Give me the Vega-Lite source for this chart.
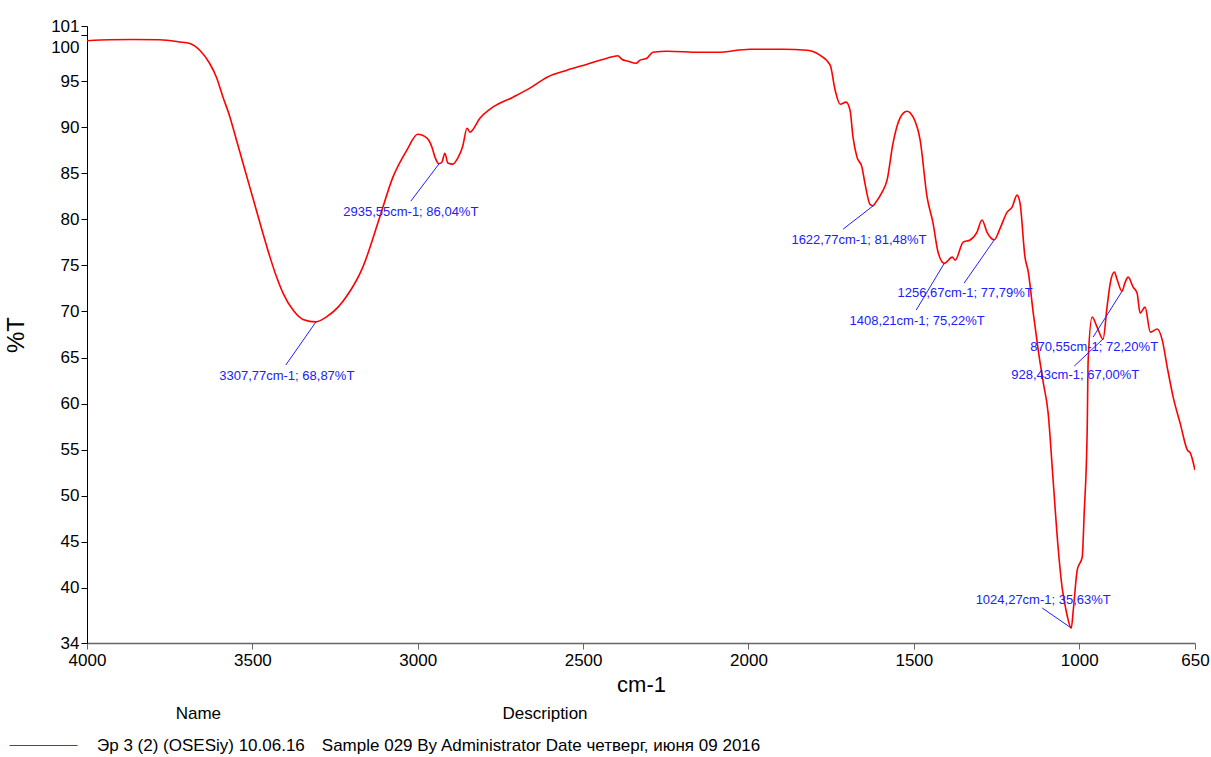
{
  "$schema": "https://vega.github.io/schema/vega-lite/v6.json",
  "autosize": {"type": "none"},
  "padding": {"left": 87, "top": 26, "right": 16, "bottom": 114},
  "width": 1108,
  "height": 617,
  "background": "white",
  "config": {"view": {"stroke": null}, "font": "Liberation Sans"},
  "datasets": {
    "spectrum": [
      {"wn": 4000, "t": 99.40}, {"wn": 3931, "t": 99.51}, {"wn": 3862, "t": 99.53}, {"wn": 3780, "t": 99.50},
      {"wn": 3720, "t": 99.27}, {"wn": 3689, "t": 99.10}, {"wn": 3659, "t": 98.37}, {"wn": 3629, "t": 96.93},
      {"wn": 3609, "t": 95.47}, {"wn": 3589, "t": 93.30}, {"wn": 3568, "t": 91.13}, {"wn": 3548, "t": 88.60},
      {"wn": 3528, "t": 86.07}, {"wn": 3508, "t": 83.53}, {"wn": 3488, "t": 81.00}, {"wn": 3468, "t": 78.47},
      {"wn": 3447, "t": 75.93}, {"wn": 3427, "t": 73.76}, {"wn": 3407, "t": 71.96}, {"wn": 3377, "t": 70.15},
      {"wn": 3347, "t": 69.14}, {"wn": 3308, "t": 68.87}, {"wn": 3276, "t": 69.42}, {"wn": 3240, "t": 70.50},
      {"wn": 3214, "t": 71.70}, {"wn": 3166, "t": 74.82},
      {"wn": 3115, "t": 80.24}, {"wn": 3075, "t": 84.59}, {"wn": 3033, "t": 87.52}, {"wn": 3000, "t": 89.25},
      {"wn": 2972, "t": 88.82}, {"wn": 2957, "t": 87.84}, {"wn": 2948, "t": 86.76}, {"wn": 2936, "t": 86.04},
      {"wn": 2927, "t": 86.21}, {"wn": 2918, "t": 87.19}, {"wn": 2909, "t": 86.12}, {"wn": 2894, "t": 86.00},
      {"wn": 2879, "t": 86.65}, {"wn": 2864, "t": 87.95}, {"wn": 2851, "t": 89.90}, {"wn": 2842, "t": 89.47},
      {"wn": 2812, "t": 90.99}, {"wn": 2773, "t": 92.18}, {"wn": 2712, "t": 93.27}, {"wn": 2661, "t": 94.25},
      {"wn": 2609, "t": 95.44}, {"wn": 2549, "t": 96.20}, {"wn": 2488, "t": 96.85}, {"wn": 2428, "t": 97.50},
      {"wn": 2395, "t": 97.77}, {"wn": 2383, "t": 97.39}, {"wn": 2364, "t": 97.18}, {"wn": 2340, "t": 96.96},
      {"wn": 2328, "t": 97.29}, {"wn": 2307, "t": 97.50}, {"wn": 2289, "t": 98.15}, {"wn": 2246, "t": 98.26},
      {"wn": 2147, "t": 98.15}, {"wn": 2095, "t": 98.15}, {"wn": 1995, "t": 98.48}, {"wn": 1896, "t": 98.48},
      {"wn": 1823, "t": 98.37}, {"wn": 1784, "t": 97.83}, {"wn": 1753, "t": 96.74}, {"wn": 1738, "t": 94.03},
      {"wn": 1723, "t": 92.51}, {"wn": 1705, "t": 92.73}, {"wn": 1693, "t": 91.86}, {"wn": 1684, "t": 88.93},
      {"wn": 1672, "t": 86.76}, {"wn": 1657, "t": 85.67}, {"wn": 1648, "t": 83.93}, {"wn": 1632, "t": 81.60},
      {"wn": 1623, "t": 81.48}, {"wn": 1617, "t": 81.76}, {"wn": 1596, "t": 82.96}, {"wn": 1581, "t": 84.26},
      {"wn": 1563, "t": 88.28}, {"wn": 1542, "t": 90.99}, {"wn": 1521, "t": 91.75}, {"wn": 1502, "t": 91.10},
      {"wn": 1481, "t": 88.60}, {"wn": 1460, "t": 82.41}, {"wn": 1442, "t": 79.59}, {"wn": 1427, "t": 76.46},
      {"wn": 1408, "t": 75.22}, {"wn": 1384, "t": 75.90}, {"wn": 1375, "t": 75.58}, {"wn": 1351, "t": 77.53},
      {"wn": 1330, "t": 77.76}, {"wn": 1309, "t": 78.63}, {"wn": 1294, "t": 79.93}, {"wn": 1279, "t": 78.63},
      {"wn": 1257, "t": 77.79}, {"wn": 1239, "t": 79.05}, {"wn": 1218, "t": 80.79}, {"wn": 1203, "t": 81.33},
      {"wn": 1188, "t": 82.63}, {"wn": 1179, "t": 81.76}, {"wn": 1164, "t": 75.90}, {"wn": 1154, "t": 74.27},
      {"wn": 1139, "t": 69.82}, {"wn": 1124, "t": 65.81}, {"wn": 1109, "t": 62.33}, {"wn": 1094, "t": 58.97},
      {"wn": 1079, "t": 51.70}, {"wn": 1064, "t": 44.42}, {"wn": 1052, "t": 40.08}, {"wn": 1040, "t": 37.58},
      {"wn": 1024, "t": 35.63}, {"wn": 1018, "t": 37.58}, {"wn": 1006, "t": 41.93}, {"wn": 991, "t": 43.34},
      {"wn": 985, "t": 48.11}, {"wn": 976, "t": 57.12}, {"wn": 973, "t": 64.72}, {"wn": 961, "t": 69.39},
      {"wn": 946, "t": 68.30}, {"wn": 928, "t": 67.00}, {"wn": 916, "t": 70.47}, {"wn": 906, "t": 73.12},
      {"wn": 894, "t": 74.27}, {"wn": 885, "t": 73.41}, {"wn": 871, "t": 72.20}, {"wn": 861, "t": 73.19},
      {"wn": 852, "t": 73.73}, {"wn": 837, "t": 72.65}, {"wn": 825, "t": 71.99}, {"wn": 816, "t": 69.82},
      {"wn": 801, "t": 70.47}, {"wn": 785, "t": 67.76}, {"wn": 764, "t": 68.09}, {"wn": 749, "t": 66.89},
      {"wn": 734, "t": 63.96}, {"wn": 716, "t": 60.70}, {"wn": 695, "t": 57.88}, {"wn": 673, "t": 54.95},
      {"wn": 664, "t": 54.62}, {"wn": 650, "t": 52.78}
    ],
    "peaks": [
      {"wn": 3307.77, "t": 68.87, "lx": 3399, "ly": 64.18, "tx": 3396, "ty": 62.98, "label": "3307,77cm-1; 68,87%T"},
      {"wn": 2935.55, "t": 86.04, "lx": 3021, "ly": 81.98, "tx": 3021, "ty": 80.79, "label": "2935,55cm-1; 86,04%T"},
      {"wn": 1622.77, "t": 81.48, "lx": 1714, "ly": 78.94, "tx": 1666, "ty": 77.75, "label": "1622,77cm-1; 81,48%T"},
      {"wn": 1408.21, "t": 75.22, "lx": 1493, "ly": 70.15, "tx": 1490, "ty": 68.95, "label": "1408,21cm-1; 75,22%T"},
      {"wn": 1256.67, "t": 77.79, "lx": 1348, "ly": 73.08, "tx": 1345, "ty": 71.99, "label": "1256,67cm-1; 77,79%T"},
      {"wn": 870.55, "t": 72.20, "lx": 958, "ly": 67.22, "tx": 955, "ty": 66.13, "label": "870,55cm-1; 72,20%T"},
      {"wn": 928.43, "t": 67.00, "lx": 1015, "ly": 64.07, "tx": 1012, "ty": 63.09, "label": "928,43cm-1; 67,00%T"},
      {"wn": 1024.27, "t": 35.63, "lx": 1112, "ly": 37.80, "tx": 1109, "ty": 38.67, "label": "1024,27cm-1; 35,63%T"}
    ]
  },
  "layer": [
    {
      "data": {"name": "spectrum"},
      "transform": [{"calculate": "'Эр 3 (2) (OSESiy) 10.06.16\u2003Sample 029 By Administrator Date четверг, июня 09 2016'", "as": "series"}],
      "mark": {"type": "line", "strokeWidth": 1.6, "interpolate": "monotone", "clip": true},
      "encoding": {
        "x": {
          "field": "wn", "type": "quantitative",
          "scale": {"domain": [4000, 650], "nice": false, "zero": false},
          "axis": {
            "title": "cm-1", "values": [4000, 3500, 3000, 2500, 2000, 1500, 1000, 650], "format": "d",
            "grid": false, "domainColor": "#666666", "domainWidth": 1.5, "tickColor": "#666666", "tickSize": 6,
            "labelFont": "Liberation Sans", "labelFontSize": 17, "labelColor": "#000000", "labelPadding": 3,
            "labelFlush": false, "labelOverlap": false,
            "titleFont": "Liberation Sans", "titleFontSize": 22, "titleFontWeight": "normal", "titleColor": "#000000", "titlePadding": 6
          }
        },
        "y": {
          "field": "t", "type": "quantitative",
          "scale": {"domain": [34, 101], "nice": false, "zero": false},
          "axis": {
            "title": "%T", "values": [34, 40, 45, 50, 55, 60, 65, 70, 75, 80, 85, 90, 95, 100, 101], "format": "d",
            "grid": false, "domainColor": "#000000", "tickColor": "#000000", "tickSize": 6,
            "labelFont": "Liberation Sans", "labelFontSize": 17, "labelColor": "#000000", "labelPadding": 2,
            "labelFlush": false, "labelOverlap": false,
            "labelOffset": {"condition": {"test": "datum.value == 100", "value": 12}, "value": 0},
            "titleFont": "Liberation Sans", "titleFontSize": 24, "titleFontWeight": "normal", "titleColor": "#000000", "titlePadding": 22
          }
        },
        "color": {
          "field": "series", "type": "nominal",
          "scale": {"range": ["#ff0000"]},
          "legend": {
            "orient": "none", "legendX": -52, "legendY": 680,
            "title": "\u200b\u2003\u2003\u2003\u2003\u2003\u2003\u2003\u2003\u00a0Name\u2003\u2003\u2003\u2003\u2003\u2003\u2003\u2003\u2003\u2003\u2003\u2003\u2003\u2003\u2003\u2003\u00a0\u00a0Description",
            "titleAnchor": "start", "titleFont": "Liberation Sans", "titleFontSize": 17, "titleFontWeight": "normal",
            "titleColor": "#000000", "titlePadding": 14, "titleLimit": 2000,
            "symbolType": "M-5,0H5", "symbolSize": 185, "symbolStrokeWidth": 1, "symbolOffset": 0,
            "labelFont": "Liberation Sans", "labelFontSize": 17, "labelColor": "#000000", "labelOffset": 45, "labelLimit": 2000,
            "padding": 0
          }
        }
      }
    },
    {
      "data": {"name": "peaks"},
      "mark": {"type": "rule", "color": "#2020ff", "strokeWidth": 1},
      "encoding": {
        "x": {"field": "wn", "type": "quantitative"},
        "y": {"field": "t", "type": "quantitative"},
        "x2": {"field": "lx"},
        "y2": {"field": "ly"}
      }
    },
    {
      "data": {"name": "peaks"},
      "mark": {"type": "text", "color": "#2020ff", "fontSize": 13, "font": "Liberation Sans", "align": "center", "baseline": "middle"},
      "encoding": {
        "x": {"field": "tx", "type": "quantitative"},
        "y": {"field": "ty", "type": "quantitative"},
        "text": {"field": "label"}
      }
    }
  ]
}
